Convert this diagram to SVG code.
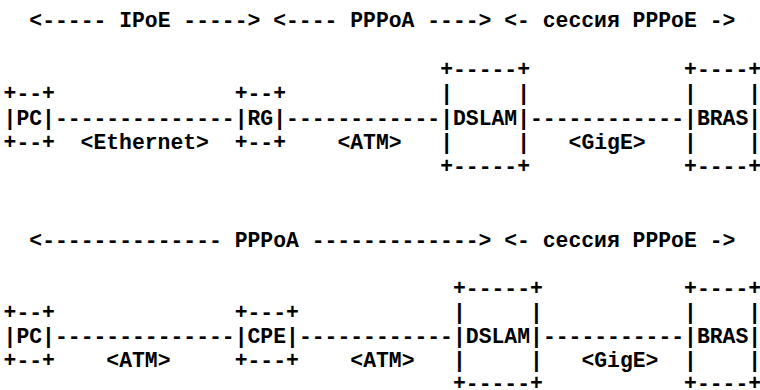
<svg xmlns="http://www.w3.org/2000/svg" width="760" height="390" viewBox="0 0 760 390">
  <style>
    text { font-family: "Liberation Mono", "DejaVu Sans Mono", monospace; font-size: 21.4px; font-weight: bold; fill: #000; white-space: pre; }
  </style>
  <rect width="760" height="390" fill="#fff"/>

  <!-- Scheme 1: IPoE + PPPoA + PPPoE session -->
  <g id="title1">
    <text x="29.3" y="27" xml:space="preserve">&lt;----- IPoE -----&gt; &lt;---- PPPoA ----&gt; &lt;- сессия PPPoE -&gt;</text>
  </g>
  <g id="pc1">
    <text x="3.6" y="100.2">+--+</text>
    <text x="3.6" y="124.6">|PC|</text>
    <text x="3.6" y="149">+--+</text>
  </g>
  <g id="rg1">
    <text x="234.7" y="100.2">+--+</text>
    <text x="234.7" y="124.6">|RG|</text>
    <text x="234.7" y="149">+--+</text>
  </g>
  <g id="dslam1">
    <text x="440.2" y="75.8">+-----+</text>
    <text x="440.2" y="100.2" xml:space="preserve">|     |</text>
    <text x="440.2" y="124.6">|DSLAM|</text>
    <text x="440.2" y="149" xml:space="preserve">|     |</text>
    <text x="440.2" y="173.4">+-----+</text>
  </g>
  <g id="bras1">
    <text x="684.1" y="75.8">+----+</text>
    <text x="684.1" y="100.2" xml:space="preserve">|    |</text>
    <text x="684.1" y="124.6">|BRAS|</text>
    <text x="684.1" y="149" xml:space="preserve">|    |</text>
    <text x="684.1" y="173.4">+----+</text>
  </g>
  <g id="links1">
    <text x="55" y="124.6">--------------</text>
    <text x="80.6" y="149">&lt;Ethernet&gt;</text>
    <text x="286.1" y="124.6">------------</text>
    <text x="337.4" y="149">&lt;ATM&gt;</text>
    <text x="530" y="124.6">------------</text>
    <text x="568.6" y="149">&lt;GigE&gt;</text>
  </g>

  <!-- Scheme 2: PPPoA end to end + PPPoE session -->
  <g id="title2">
    <text x="29.3" y="246.5" xml:space="preserve">&lt;-------------- PPPoA -------------&gt; &lt;- сессия PPPoE -&gt;</text>
  </g>
  <g id="pc2">
    <text x="3.6" y="318.8">+--+</text>
    <text x="3.6" y="342.9">|PC|</text>
    <text x="3.6" y="367">+--+</text>
  </g>
  <g id="cpe2">
    <text x="234.7" y="318.8">+---+</text>
    <text x="234.7" y="342.9">|CPE|</text>
    <text x="234.7" y="367">+---+</text>
  </g>
  <g id="dslam2">
    <text x="453" y="294.7">+-----+</text>
    <text x="453" y="318.8" xml:space="preserve">|     |</text>
    <text x="453" y="342.9">|DSLAM|</text>
    <text x="453" y="367" xml:space="preserve">|     |</text>
    <text x="453" y="390">+-----+</text>
  </g>
  <g id="bras2">
    <text x="684.1" y="294.7">+----+</text>
    <text x="684.1" y="318.8" xml:space="preserve">|    |</text>
    <text x="684.1" y="342.9">|BRAS|</text>
    <text x="684.1" y="367" xml:space="preserve">|    |</text>
    <text x="684.1" y="390">+----+</text>
  </g>
  <g id="links2">
    <text x="55" y="342.9">--------------</text>
    <text x="106.3" y="367">&lt;ATM&gt;</text>
    <text x="298.9" y="342.9">------------</text>
    <text x="350.3" y="367">&lt;ATM&gt;</text>
    <text x="542.9" y="342.9">-----------</text>
    <text x="581.4" y="367">&lt;GigE&gt;</text>
  </g>
</svg>
